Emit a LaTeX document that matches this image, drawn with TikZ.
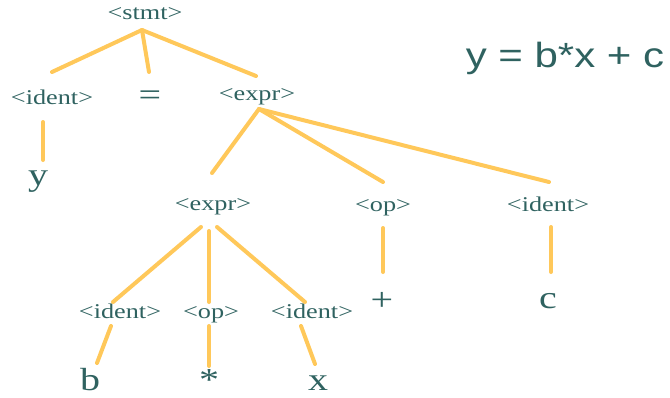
\documentclass[tikz,border=0pt]{standalone}
\usepackage{fontspec}
\usetikzlibrary{calc}
\newfontfamily\lblfont[FakeStretch=1.25]{Liberation Serif}
\newfontfamily\ttlfont[FakeStretch=1.2]{Liberation Sans}
\definecolor{txt}{RGB}{47,98,96}
\definecolor{edgecol}{RGB}{255,200,90}
\begin{document}
\begin{tikzpicture}[x=1pt,y=-1pt,
  lbl/.style={anchor=base,inner sep=0pt,text=txt,font=\lblfont\fontsize{21}{25}\selectfont},
  leaf/.style={anchor=base,inner sep=0pt,text=txt,font=\lblfont\fontsize{32}{38}\selectfont},
  ttl/.style={anchor=base,inner sep=0pt,text=txt,font=\ttlfont\fontsize{35}{42}\selectfont},
  edge/.style={draw=edgecol,line width=4pt,line cap=round}]
\useasboundingbox (0,0) rectangle (670,397);
% nodes
\node[lbl] (stmt) at (145,19) {<stmt>};
\node[lbl] (ident1) at (52,104) {<ident>};
\node[leaf] (eq) at (150,105) {=};
\node[lbl] (expr1) at (257,100) {<expr>};
\node[leaf] (y) at (38,185) {y};
\node[lbl] (expr2) at (213,210) {<expr>};
\node[lbl] (op1) at (383,211) {<op>};
\node[lbl] (ident3) at (548,211) {<ident>};
\node[leaf] (plus) at (382,310) {+};
\node[leaf] (c) at (548,308) {c};
\node[lbl] (ident4) at (120,318) {<ident>};
\node[lbl] (op2) at (211,318) {<op>};
\node[lbl] (ident5) at (312,318) {<ident>};
\node[leaf] (b) at (90,390) {b};
\node[leaf] (star) at (209,390) {*};
\node[leaf] (x) at (318,390) {x};
\node[ttl] (eqn) at (565,67) {y = b*x + c};
% edges
\draw[edge] ($(stmt.base)+(-3,11)$) -- ($(ident1.base)+(0,-32)$);
\draw[edge] ($(stmt.base)+(-3,11)$) -- ($(eq.base)+(-1,-33)$);
\draw[edge] ($(stmt.base)+(-3,11)$) -- ($(expr1.base)+(-1,-24)$);
\draw[edge] ($(ident1.base)+(-9,18)$) -- ($(y.base)+(5,-25)$);
\draw[edge] ($(expr1.base)+(2,9)$) -- ($(expr2.base)+(-1,-37)$);
\draw[edge] ($(expr1.base)+(2,9)$) -- ($(op1.base)+(0,-29)$);
\draw[edge] ($(expr1.base)+(2,9)$) -- ($(ident3.base)+(1,-29)$);
\draw[edge] ($(op1.base)+(0,17)$) -- ($(plus.base)+(1,-38)$);
\draw[edge] ($(ident3.base)+(3,16)$) -- ($(c.base)+(3,-36)$);
\draw[edge] ($(expr2.base)+(-12,17)$) -- ($(ident4.base)+(-7,-16)$);
\draw[edge] ($(expr2.base)+(-4,21)$) -- ($(op2.base)+(-2,-16)$);
\draw[edge] ($(expr2.base)+(4,17)$) -- ($(ident5.base)+(-7,-16)$);
\draw[edge] ($(ident4.base)+(-9,8)$) -- ($(b.base)+(7,-27)$);
\draw[edge] ($(op2.base)+(-2,8)$) -- ($(star.base)+(0,-24)$);
\draw[edge] ($(ident5.base)+(-11,8)$) -- ($(x.base)+(-3,-26)$);
\end{tikzpicture}
\end{document}
